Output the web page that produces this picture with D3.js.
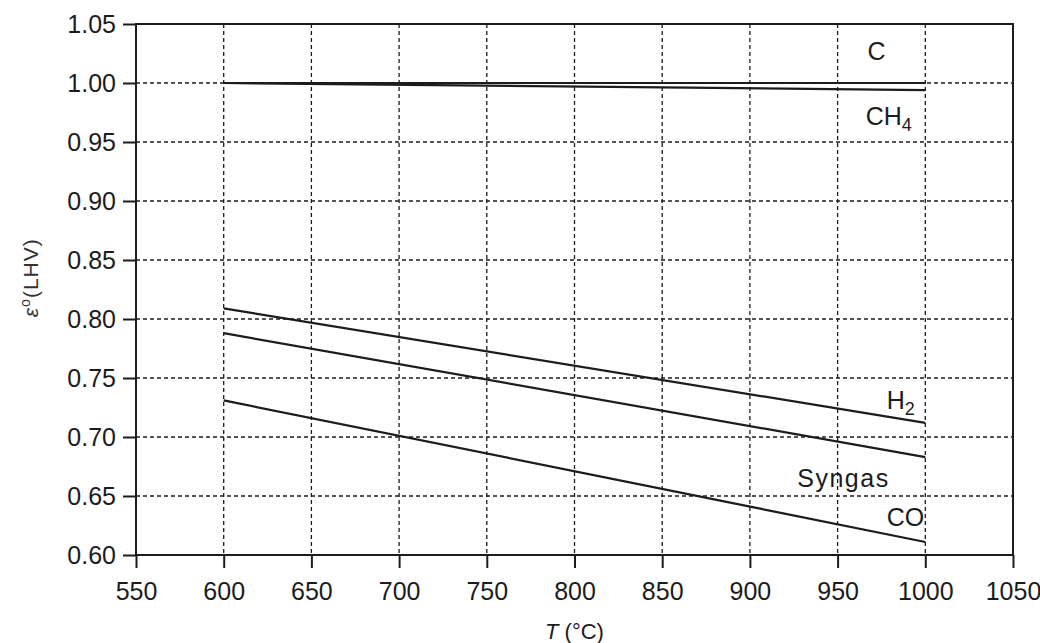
<!DOCTYPE html>
<html>
<head>
<meta charset="utf-8">
<script src="https://cdn.jsdelivr.net/npm/d3@7"></script>
<style>
  html, body { margin: 0; padding: 0; background: #ffffff; }
  svg { display: block; font-family: "Liberation Sans", Arial, sans-serif; }
</style>
</head>
<body>
<svg id="chart" width="1040" height="643"></svg>
<script>
// ---- data ----
const temps = [600, 1000];
const seriesNames = ["C", "CH4", "H2", "Syngas", "CO"];
const valC      = [1.000, 1.000];
const valCH4    = [1.000, 0.994];
const valH2     = [0.809, 0.712];
const valSyngas = [0.788, 0.683];
const valCO     = [0.731, 0.611];
const xTicks = [550, 600, 650, 700, 750, 800, 850, 900, 950, 1000, 1050];
const yTicks = [0.60, 0.65, 0.70, 0.75, 0.80, 0.85, 0.90, 0.95, 1.00, 1.05];
// label anchor points (data coordinates)
const labelT = [967, 966, 978, 927, 978];
const labelV = [1.0195, 0.9644, 0.7237, 0.6576, 0.6246];

const seriesVals = [valC, valCH4, valH2, valSyngas, valCO];

const svg = d3.select("#chart");
const margin = {left: 136, top: 24, right: 27, bottom: 88};
const W = 1040 - margin.left - margin.right;
const H = 643 - margin.top - margin.bottom;
const ink = "#1c1c1c";

const x = d3.scaleLinear().domain([550, 1050]).range([0, W]);
const y = d3.scaleLinear().domain([0.60, 1.05]).range([H, 0]);

const g = svg.append("g").attr("transform", `translate(${margin.left},${margin.top})`);

// grid
g.append("g").selectAll("line.vg")
  .data(xTicks.filter(t => t > 550 && t < 1050))
  .join("line")
  .attr("x1", d => x(d)).attr("x2", d => x(d))
  .attr("y1", 0).attr("y2", H)
  .attr("stroke", ink).attr("stroke-width", 1.3)
  .attr("stroke-dasharray", "4,3");
g.append("g").selectAll("line.hg")
  .data(yTicks.filter(t => t > 0.601 && t < 1.049))
  .join("line")
  .attr("x1", 0).attr("x2", W)
  .attr("y1", d => y(d)).attr("y2", d => y(d))
  .attr("stroke", ink).attr("stroke-width", 1.3)
  .attr("stroke-dasharray", "4,3");

// frame
g.append("rect").attr("x", 0).attr("y", 0).attr("width", W).attr("height", H)
  .attr("fill", "none").attr("stroke", ink).attr("stroke-width", 2);

// axes
const xAxis = d3.axisBottom(x).tickValues(xTicks).tickSize(13).tickPadding(14)
  .tickFormat(d3.format("d"));
const gx = g.append("g").attr("transform", `translate(0,${H})`).call(xAxis);
gx.select(".domain").remove();
gx.selectAll(".tick line").attr("stroke", ink).attr("stroke-width", 2);
gx.selectAll(".tick text").attr("fill", ink).attr("font-size", 25)
  .attr("font-family", "'Liberation Sans', Arial, sans-serif");

const yAxis = d3.axisLeft(y).tickValues(yTicks).tickSize(13).tickPadding(7)
  .tickFormat(d3.format(".2f"));
const gy = g.append("g").call(yAxis);
gy.select(".domain").remove();
gy.selectAll(".tick line").attr("stroke", ink).attr("stroke-width", 2);
gy.selectAll(".tick text").attr("fill", ink).attr("font-size", 25)
  .attr("font-family", "'Liberation Sans', Arial, sans-serif");

// series lines
const line = d3.line().x((d, i) => x(temps[i])).y(d => y(d));
g.append("g").selectAll("path.s")
  .data(seriesVals)
  .join("path")
  .attr("d", d => line(d))
  .attr("fill", "none").attr("stroke", ink).attr("stroke-width", 2.2);

// labels
const lg = g.append("g").attr("fill", ink).attr("font-size", 25);
seriesNames.forEach((name, i) => {
  const t = lg.append("text").attr("x", x(labelT[i])).attr("y", y(labelV[i]));
  const m = name.match(/^([A-Za-z]+?)(\d)$/);
  if (m) {
    t.append("tspan").text(m[1]);
    t.append("tspan").text(m[2]).attr("font-size", 18).attr("dy", 6);
  } else {
    t.text(name);
    if (name === "Syngas") t.attr("letter-spacing", 1.5);
  }
});

// axis titles
const xt = svg.append("text")
  .attr("x", margin.left + W / 2).attr("y", 639)
  .attr("text-anchor", "middle").attr("fill", ink).attr("font-size", 22);
xt.append("tspan").text("T").attr("font-style", "italic");
xt.append("tspan").text(" (°C)");

const yt = svg.append("text")
  .attr("transform", `translate(38,${margin.top + y(0.835)}) rotate(-90)`)
  .attr("text-anchor", "middle").attr("fill", "#333").attr("font-size", 21)
  .attr("letter-spacing", 1);
yt.append("tspan").text("ε").attr("font-style", "italic");
yt.append("tspan").text("o").attr("font-size", 14).attr("dy", -8);
yt.append("tspan").text("(LHV)").attr("dy", 8);
</script>
</body>
</html>
